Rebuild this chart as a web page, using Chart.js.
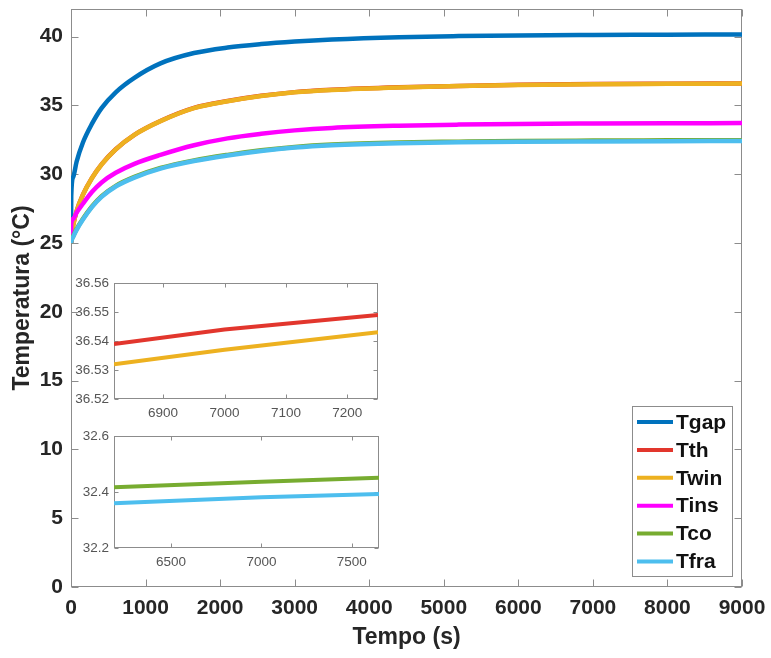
<!DOCTYPE html>
<html>
<head>
<meta charset="utf-8">
<script src="https://cdn.jsdelivr.net/npm/chart.js@4.4.1/dist/chart.umd.min.js"></script>
<style>
html, body { margin: 0; padding: 0; background: #fff; }
#wrap { position: relative; width: 771px; height: 658px; }
#wrap canvas { position: absolute; }
</style>
</head>
<body>
<div id="wrap">
  <canvas id="main" width="771" height="658" style="left:0;top:0"></canvas>
  <canvas id="inset1" width="314" height="150" style="left:72px;top:275px"></canvas>
  <canvas id="inset2" width="315" height="148" style="left:72px;top:428px"></canvas>
</div>
<script>
// time (s) and temperatures (°C)
const time = [0, 3, 30, 75, 160, 280, 410, 600, 850, 1200, 1650, 2100, 2550, 3000, 3500, 4400, 5200, 6000, 7000, 8000, 9000];
const tgap = [25, 28.4, 29.8, 30.9, 32.3, 33.65, 34.8, 35.95, 37.0, 38.05, 38.8, 39.2, 39.45, 39.63, 39.78, 39.95, 40.03, 40.08, 40.11, 40.13, 40.15];
const tth  = [25, 25.41, 26.31, 27.31, 28.51, 29.71, 30.71, 31.81, 32.86, 33.86, 34.81, 35.31, 35.69, 35.96, 36.13, 36.31, 36.41, 36.49, 36.544, 36.569, 36.587];
const twin = [25, 25.4, 26.3, 27.3, 28.5, 29.7, 30.7, 31.8, 32.85, 33.85, 34.8, 35.3, 35.68, 35.95, 36.12, 36.3, 36.4, 36.48, 36.537, 36.562, 36.58];
const tins = [25, 26.4, 26.75, 27.2, 27.85, 28.7, 29.4, 30.1, 30.75, 31.4, 32.1, 32.6, 32.93, 33.18, 33.36, 33.52, 33.6, 33.65, 33.68, 33.7, 33.71];
const tco  = [25, 25.12, 25.5, 26.0, 26.75, 27.65, 28.4, 29.15, 29.8, 30.45, 31.0, 31.4, 31.73, 31.98, 32.15, 32.3, 32.36, 32.41, 32.437, 32.455, 32.47];
const tfra = [25, 25.1, 25.45, 25.95, 26.7, 27.6, 28.35, 29.1, 29.75, 30.4, 30.95, 31.35, 31.68, 31.93, 32.1, 32.25, 32.31, 32.355, 32.381, 32.398, 32.41];

// zoomed insets
const inset1Time = [6820, 7000, 7250];
const inset1Tth  = [36.539, 36.544, 36.549];
const inset1Twin = [36.532, 36.537, 36.543];
const inset2Time = [6185, 7000, 7650];
const inset2Tco  = [32.417, 32.437, 32.451];
const inset2Tfra = [32.360, 32.381, 32.393];

// ticks
const mainXTicks = [0, 1000, 2000, 3000, 4000, 5000, 6000, 7000, 8000, 9000];
const mainYTicks = [0, 5, 10, 15, 20, 25, 30, 35, 40];
const inset1XTicks = [6900, 7000, 7100, 7200];
const inset1YTicks = [36.52, 36.53, 36.54, 36.55, 36.56];
const inset2XTicks = [6500, 7000, 7500];
const inset2YTicks = [32.2, 32.4, 32.6];

const labels = ['Tgap', 'Tth', 'Twin', 'Tins', 'Tco', 'Tfra'];
const colors = ['#0072BD', '#E2362D', '#EDB120', '#FF00FF', '#77AC30', '#4DBEEE'];

const FONT = "'Liberation Sans', Arial, sans-serif";
const AXIS = '#8c8c8c';
const TEXT = '#262626';

const pts = (xs, ys) => xs.map((x, i) => ({x: x, y: ys[i]}));
const useTicks = arr => scale => { scale.ticks = arr.map(v => ({value: v})); };

// box round the plot area with inward ticks on all four sides
const boxPlugin = {
  id: 'box',
  beforeDatasetsDraw(chart, args, opts) {
    const {ctx, chartArea: a} = chart;
    const x = chart.scales.x, y = chart.scales.y;
    const L = Math.round(a.left) + 0.5, R = Math.round(a.right) - 0.5;
    const T = Math.round(a.top) + 0.5, B = Math.round(a.bottom) - 0.5;
    ctx.save();
    ctx.fillStyle = '#fff';
    ctx.fillRect(a.left, a.top, a.right - a.left, a.bottom - a.top);
    ctx.strokeStyle = opts.color;
    ctx.lineWidth = 1;
    ctx.beginPath();
    x.ticks.forEach(t => {
      const p = Math.round(x.getPixelForValue(t.value)) + 0.5;
      ctx.moveTo(p, B); ctx.lineTo(p, B - opts.len);
      ctx.moveTo(p, T); ctx.lineTo(p, T + opts.len);
    });
    y.ticks.forEach(t => {
      const p = Math.round(y.getPixelForValue(t.value)) + 0.5;
      ctx.moveTo(L, p); ctx.lineTo(L + opts.len, p);
      ctx.moveTo(R, p); ctx.lineTo(R - opts.len, p);
    });
    ctx.stroke();
    ctx.strokeRect(L, T, R - L, B - T);
    ctx.restore();
  }
};

// legend box drawn inside the plot area
const legendPlugin = {
  id: 'boxLegend',
  afterDraw(chart, args, o) {
    const ctx = chart.ctx;
    ctx.save();
    ctx.fillStyle = '#fff';
    ctx.fillRect(o.left, o.top, o.width, o.height);
    ctx.strokeStyle = AXIS;
    ctx.lineWidth = 1;
    ctx.strokeRect(o.left + 0.5, o.top + 0.5, o.width, o.height);
    ctx.font = 'bold 21px ' + FONT;
    ctx.textBaseline = 'middle';
    chart.data.datasets.forEach((ds, i) => {
      const yy = o.top + o.first + i * o.step;
      ctx.strokeStyle = ds.borderColor;
      ctx.lineWidth = 4;
      ctx.beginPath();
      ctx.moveTo(o.left + 5, yy);
      ctx.lineTo(o.left + 41, yy);
      ctx.stroke();
      ctx.fillStyle = '#111';
      ctx.fillText(ds.label, o.left + 44, yy + 1);
    });
    ctx.restore();
  }
};

function fixBox(w, h) {
  return scale => {
    if (w !== null) scale.width = w;
    if (h !== null) scale.height = h;
    scale.paddingLeft = scale.paddingRight = scale.paddingTop = scale.paddingBottom = 0;
  };
}

new Chart(document.getElementById('main'), {
  type: 'line',
  data: {
    datasets: labels.map((lab, i) => ({
      label: lab,
      data: pts(time, [tgap, tth, twin, tins, tco, tfra][i]),
      borderColor: colors[i],
      borderWidth: 4.5,
      pointRadius: 0,
      fill: false,
      cubicInterpolationMode: 'monotone',
      order: labels.length - i
    }))
  },
  options: {
    responsive: false,
    animation: false,
    devicePixelRatio: 1,
    layout: { padding: { left: 0, right: 29, top: 9, bottom: 0 } },
    plugins: {
      legend: { display: false },
      tooltip: { enabled: false },
      box: { color: AXIS, len: 7 },
      boxLegend: { left: 632, top: 406, width: 100, height: 170, first: 16, step: 27.9 }
    },
    scales: {
      x: {
        type: 'linear', min: 0, max: 9000,
        afterBuildTicks: useTicks(mainXTicks),
        afterFit: fixBox(null, 71),
        grid: { display: false, drawTicks: false },
        border: { display: false },
        ticks: { color: TEXT, padding: 9, maxRotation: 0, autoSkip: false,
                 font: { family: FONT, size: 21, weight: 'bold' }, callback: v => String(v) },
        title: { display: true, text: 'Tempo (s)', color: TEXT,
                 font: { family: FONT, size: 23, weight: 'bold' }, padding: { top: 0, bottom: 7 } }
      },
      y: {
        type: 'linear', min: 0, max: 42,
        afterBuildTicks: useTicks(mainYTicks),
        afterFit: fixBox(71, null),
        grid: { display: false, drawTicks: false },
        border: { display: false },
        ticks: { color: TEXT, padding: 8, autoSkip: false,
                 font: { family: FONT, size: 21, weight: 'bold' }, callback: v => String(v) },
        title: { display: true, text: 'Temperatura (°C)', color: TEXT,
                 font: { family: FONT, size: 23, weight: 'bold' }, padding: { top: 9, bottom: 0 } }
      }
    }
  },
  plugins: [boxPlugin, legendPlugin]
});

function inset(id, xs, series, cols, xmin, xmax, ymin, ymax, xt, yt, dec, padR, axH) {
  new Chart(document.getElementById(id), {
    type: 'line',
    data: {
      datasets: series.map((s, i) => ({
        data: pts(xs, s),
        borderColor: cols[i],
        borderWidth: 4,
        pointRadius: 0,
        fill: false,
        tension: 0
      }))
    },
    options: {
      responsive: false,
      animation: false,
      devicePixelRatio: 1,
      layout: { padding: { left: 0, right: padR, top: 8, bottom: 0 } },
      plugins: { legend: { display: false }, tooltip: { enabled: false }, box: { color: AXIS, len: 4 } },
      scales: {
        x: {
          type: 'linear', min: xmin, max: xmax,
          afterBuildTicks: useTicks(xt),
          afterFit: fixBox(null, axH),
          grid: { display: false, drawTicks: false },
          border: { display: false },
          ticks: { color: '#555', padding: 6, maxRotation: 0, autoSkip: false,
                   font: { family: FONT, size: 13.5 }, callback: v => String(v) }
        },
        y: {
          type: 'linear', min: ymin, max: ymax,
          afterBuildTicks: useTicks(yt),
          afterFit: fixBox(42, null),
          grid: { display: false, drawTicks: false },
          border: { display: false },
          ticks: { color: '#555', padding: 5, autoSkip: false,
                   font: { family: FONT, size: 13.5 }, callback: v => Number(v).toFixed(dec) }
        }
      }
    },
    plugins: [boxPlugin]
  });
}

inset('inset1', inset1Time, [inset1Tth, inset1Twin], [colors[1], colors[2]],
      6820, 7250, 36.52, 36.56, inset1XTicks, inset1YTicks, 2, 8, 26);
inset('inset2', inset2Time, [inset2Tco, inset2Tfra], [colors[4], colors[5]],
      6185, 7650, 32.2, 32.6, inset2XTicks, inset2YTicks, 1, 8, 28);
</script>
</body>
</html>
